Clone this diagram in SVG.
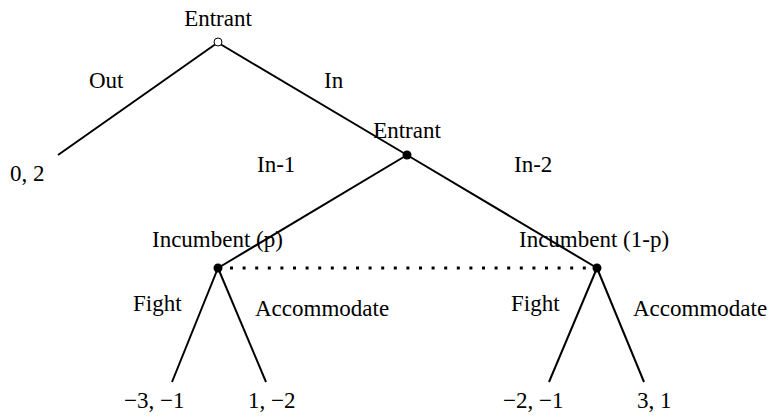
<svg xmlns="http://www.w3.org/2000/svg" width="772" height="417" viewBox="0 0 772 417">
<style>
text{font-family:"Liberation Serif","Times New Roman",serif;font-size:23px;fill:#000}
.e{stroke:#000;stroke-width:2;fill:none}
.m{text-anchor:middle}
</style>
<rect width="772" height="417" fill="#fff"/>
<g id="connectors">
<line class="e" x1="215" y1="44.5" x2="58" y2="155"/>
<line class="e" x1="221" y1="44.5" x2="407" y2="155"/>
<line class="e" x1="407" y1="155" x2="218" y2="268"/>
<line class="e" x1="407" y1="155" x2="597" y2="268"/>
<line class="e" x1="218" y1="268" x2="172" y2="382"/>
<line class="e" x1="218" y1="268" x2="266" y2="382"/>
<line class="e" x1="597" y1="268" x2="549" y2="382"/>
<line class="e" x1="597" y1="268" x2="644" y2="382"/>
<line stroke="#000" stroke-width="3" stroke-dasharray="3,9.6" x1="230" y1="268" x2="592" y2="268"/>
<text x="89" y="88">Out</text>
<text x="324" y="88">In</text>
<text x="257" y="172">In-1</text>
<text x="514" y="172">In-2</text>
<text x="133" y="311">Fight</text>
<text x="255" y="316">Accommodate</text>
<text x="511" y="311">Fight</text>
<text x="633" y="316">Accommodate</text>
</g>
<g id="n-root">
<circle cx="218" cy="42" r="4" fill="#fff" stroke="#000" stroke-width="1"/>
<text class="m" x="218" y="26">Entrant</text>
</g>
<g id="n-entrant2">
<circle cx="407" cy="155" r="4.5" fill="#000"/>
<text class="m" x="407" y="138">Entrant</text>
</g>
<g id="n-inc-p">
<circle cx="218" cy="268" r="4.5" fill="#000"/>
<text x="152" y="247">Incumbent (p)</text>
</g>
<g id="n-inc-1p">
<circle cx="597" cy="268" r="4.5" fill="#000"/>
<text x="519" y="247">Incumbent (1-p)</text>
</g>
<g id="leaf-out"><text x="10" y="181">0, 2</text></g>
<g id="leaf-ff"><text x="124" y="408">−3, −1</text></g>
<g id="leaf-fa"><text x="248" y="408">1, −2</text></g>
<g id="leaf-af"><text x="503" y="408">−2, −1</text></g>
<g id="leaf-aa"><text x="637" y="408">3, 1</text></g>
</svg>
